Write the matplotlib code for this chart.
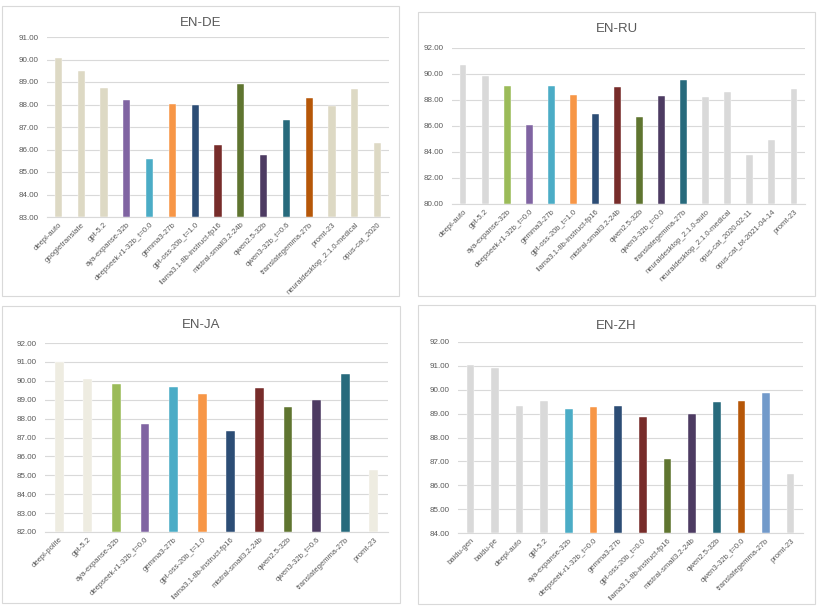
import matplotlib
matplotlib.use("Agg")
import matplotlib.pyplot as plt
from matplotlib.patches import Rectangle

plt.rcParams['font.family'] = ['Liberation Sans', 'DejaVu Sans']

# palette (Excel-like)
BEIGE = '#DDD9C4'
OFFWHITE = '#EEECE1'
GREY = '#D9D9D9'
GREEN = '#9BBB59'
PURPLE = '#8064A2'
CYAN = '#4BACC6'
ORANGE = '#F79646'
NAVY = '#2C4D75'
DRED = '#772C2A'
OLIVE = '#5F7530'
DPURP = '#4D3B62'
TEAL = '#276A7C'
BROWN = '#B65708'
LBLUE = '#729ACA'

## Data
de_labels = ['deepl-auto', 'googletranslate', 'gpt-5.2', 'aya-expanse-32b', 'deepseek-r1-32b_t=0.0',
             'gemma3-27b', 'gpt-oss-20b_t=1.0', 'llama3.1-8b-instruct-fp16', 'mistral-small3.2-24b',
             'qwen2.5-32b', 'qwen3-32b_t=0.6', 'translategemma-27b', 'promt-23',
             'neuraldesktop_2.1.0-medical', 'opus-cat_2020']
de_values = [90.07, 89.50, 88.73, 88.19, 85.58, 88.04, 87.99, 86.21, 88.90, 85.74, 87.30, 88.30,
             87.95, 88.68, 86.27]
de_colors = [BEIGE, BEIGE, BEIGE, PURPLE, CYAN, ORANGE, NAVY, DRED, OLIVE, DPURP, TEAL, BROWN,
             BEIGE, BEIGE, BEIGE]

ru_labels = ['deepl-auto', 'gpt-5.2', 'aya-expanse-32b', 'deepseek-r1-32b_t=0.0', 'gemma3-27b',
             'gpt-oss-20b_t=1.0', 'llama3.1-8b-instruct-fp16', 'mistral-small3.2-24b', 'qwen2.5-32b',
             'qwen3-32b_t=0.0', 'translategemma-27b', 'neuraldesktop_2.1.0-auto',
             'neuraldesktop_2.1.0-medical', 'opus-cat_2020-02-11', 'opus-cat_bt-2021-04-14', 'promt-23']
ru_values = [90.69, 89.87, 89.10, 86.09, 89.10, 88.40, 86.96, 89.02, 86.66, 88.27, 89.51, 88.25,
             88.63, 83.80, 84.93, 88.84]
ru_colors = [GREY, GREY, GREEN, PURPLE, CYAN, ORANGE, NAVY, DRED, OLIVE, DPURP, TEAL, GREY,
             GREY, GREY, GREY, GREY]

ja_labels = ['deepl-polite', 'gpt-5.2', 'aya-expanse-32b', 'deepseek-r1-32b_t=0.0', 'gemma3-27b',
             'gpt-oss-20b_t=1.0', 'llama3.1-8b-instruct-fp16', 'mistral-small3.2-24b', 'qwen2.5-32b',
             'qwen3-32b_t=0.6', 'translategemma-27b', 'promt-23']
ja_values = [91.02, 90.10, 89.84, 87.73, 89.66, 89.28, 87.34, 89.64, 88.59, 89.01, 90.36, 85.30]
ja_colors = [OFFWHITE, OFFWHITE, GREEN, PURPLE, CYAN, ORANGE, NAVY, DRED, OLIVE, DPURP, TEAL, OFFWHITE]

zh_labels = ['baidu-gen', 'baidu-pe', 'deepl-auto', 'gpt-5.2', 'aya-expanse-32b',
             'deepseek-r1-32b_t=0.0', 'gemma3-27b', 'gpt-oss-20b_t=0.0', 'llama3.1-8b-instruct-fp16',
             'mistral-small3.2-24b', 'qwen2.5-32b', 'qwen3-32b_t=0.0', 'translategemma-27b', 'promt-23']
zh_values = [91.03, 90.92, 89.30, 89.51, 89.19, 89.29, 89.32, 88.84, 87.10, 88.97, 89.47, 89.54,
             89.86, 86.48]
zh_colors = [GREY, GREY, GREY, GREY, CYAN, ORANGE, NAVY, DRED, OLIVE, DPURP, TEAL, BROWN, LBLUE, GREY]

W, H = 822, 612
fig = plt.figure(figsize=(W / 100, H / 100), dpi=100)


def px_axes(left, top, right, bottom):
    return fig.add_axes([left / W, 1 - bottom / H, (right - left) / W, (bottom - top) / H])


def border(x0, y0, x1, y1):
    fig.patches.append(Rectangle((x0 / W, 1 - y1 / H), (x1 - x0) / W, (y1 - y0) / H,
                                 transform=fig.transFigure, fill=False,
                                 edgecolor='#D9D9D9', linewidth=0.8))


def panel(box, frame, title, title_y, labels, values, colors, ymin, ymax, step):
    border(*frame)
    ax = px_axes(*box)
    x = range(len(labels))
    ax.bar(x, [v - ymin for v in values], bottom=ymin, width=0.31, color=colors,
           edgecolor='white', linewidth=0.3, zorder=3)
    ax.set_ylim(ymin, ymax)
    ax.set_xlim(-0.5, len(labels) - 0.5)
    ticks = [ymin + i * step for i in range(int(round((ymax - ymin) / step)) + 1)]
    ax.set_yticks(ticks)
    ax.set_yticklabels(['%.2f' % t for t in ticks], fontsize=5.8, color='#595959')
    ax.set_xticks(list(x))
    ax.set_xticklabels(labels, rotation=45, ha='right', rotation_mode='anchor',
                       fontsize=5.5, color='#595959')
    ax.grid(axis='y', color='#D9D9D9', linewidth=0.8, zorder=0)
    for s in ['top', 'right', 'left']:
        ax.spines[s].set_visible(False)
    ax.spines['bottom'].set_color('#D9D9D9')
    ax.spines['bottom'].set_linewidth(0.8)
    ax.tick_params(length=0, pad=3)
    ax.tick_params(axis='y', pad=6)
    cx = (frame[0] + frame[2]) / 2
    fig.text(cx / W, 1 - title_y / H, title, ha='center', va='center', fontsize=9.5, color='#595959')
    return ax


panel((47, 37, 389, 217), (2, 6, 399, 296), 'EN-DE', 23,
      de_labels, de_values, de_colors, 83, 91, 1)
panel((452, 48, 805, 204), (418, 12, 815, 296), 'EN-RU', 29,
      ru_labels, ru_values, ru_colors, 80, 92, 2)
panel((45, 343, 388, 532), (2, 306, 400, 603), 'EN-JA', 325,
      ja_labels, ja_values, ja_colors, 82, 92, 1)
panel((458, 342, 803, 533), (418, 305, 815, 604), 'EN-ZH', 326,
      zh_labels, zh_values, zh_colors, 84, 92, 1)

fig.savefig('out.png', dpi=100, facecolor='white')
